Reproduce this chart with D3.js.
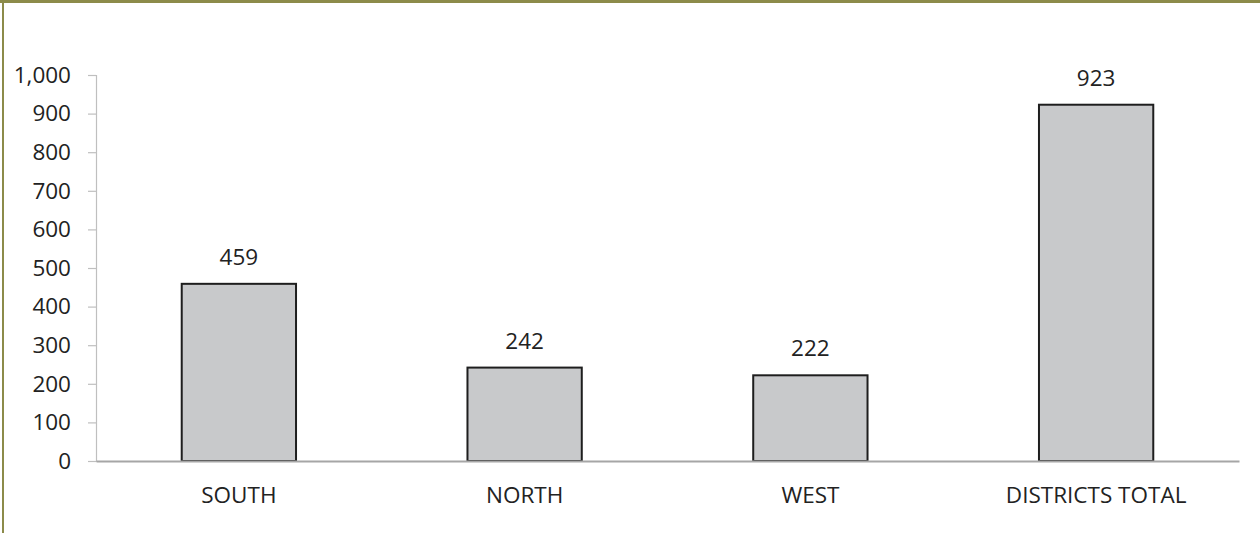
<!DOCTYPE html>
<html>
<head>
<meta charset="utf-8">
<script src="https://cdnjs.cloudflare.com/ajax/libs/d3/7.8.5/d3.min.js"></script>
<style>
  html, body { margin: 0; padding: 0; background: #fff; }
  svg { display: block; }
  text { font-family: "Open Sans", "Noto Sans", sans-serif; fill: #222; }
</style>
</head>
<body>
<svg id="chart" width="1260" height="533"></svg>
<script>
const categories = ["SOUTH", "NORTH", "WEST", "DISTRICTS TOTAL"];
const values = [459, 242, 222, 923];
const yTicks = [0, 100, 200, 300, 400, 500, 600, 700, 800, 900, 1000];

(function () {
const svg = d3.select("#chart");
const W = 1260, H = 533;
const mLeft = 96, mRight = 1239, mTop = 75, mBottom = 461;
const fs = "22.5px";

// frame borders
svg.append("rect").attr("x", 0).attr("y", 0).attr("width", W).attr("height", 3).attr("fill", "#8c8b4a");
svg.append("rect").attr("x", 2).attr("y", 0).attr("width", 2).attr("height", H).attr("fill", "#8c8b4a");

const x = d3.scaleBand().domain(categories).range([mLeft, mRight]).paddingInner(0.6).paddingOuter(0.3);
const y = d3.scaleLinear().domain([0, 1000]).range([mBottom, mTop]);

// y axis
const yAxis = svg.append("g").attr("transform", `translate(${mLeft},0)`)
  .call(d3.axisLeft(y).tickValues(yTicks).tickSize(8).tickPadding(17).tickFormat(d3.format(",")));
yAxis.selectAll("path, line").attr("stroke", "#bfbfbf").attr("stroke-width", 1.2);
yAxis.selectAll("text").style("font-size", fs).attr("fill", "#222");

// bars
svg.append("g").selectAll("rect").data(values).join("rect")
  .attr("x", (d, i) => x(categories[i]))
  .attr("y", d => y(d))
  .attr("width", x.bandwidth())
  .attr("height", d => y(0) - y(d))
  .attr("fill", "#c8c9cb")
  .attr("stroke", "#1e1e1e")
  .attr("stroke-width", 2);

// x axis
const xAxis = svg.append("g").attr("transform", `translate(0,${mBottom})`)
  .call(d3.axisBottom(x).tickSize(0).tickPadding(26));
xAxis.select("path").attr("stroke", "#a6a6a6").attr("stroke-width", 2);
xAxis.selectAll("text").style("font-size", fs).attr("fill", "#222");

// value labels
svg.append("g").selectAll("text").data(values).join("text")
  .attr("x", (d, i) => x(categories[i]) + x.bandwidth() / 2)
  .attr("y", d => y(d) - 19)
  .attr("text-anchor", "middle")
  .style("font-size", fs)
  .text(d => d3.format(",")(d));
})();
</script>
</body>
</html>
